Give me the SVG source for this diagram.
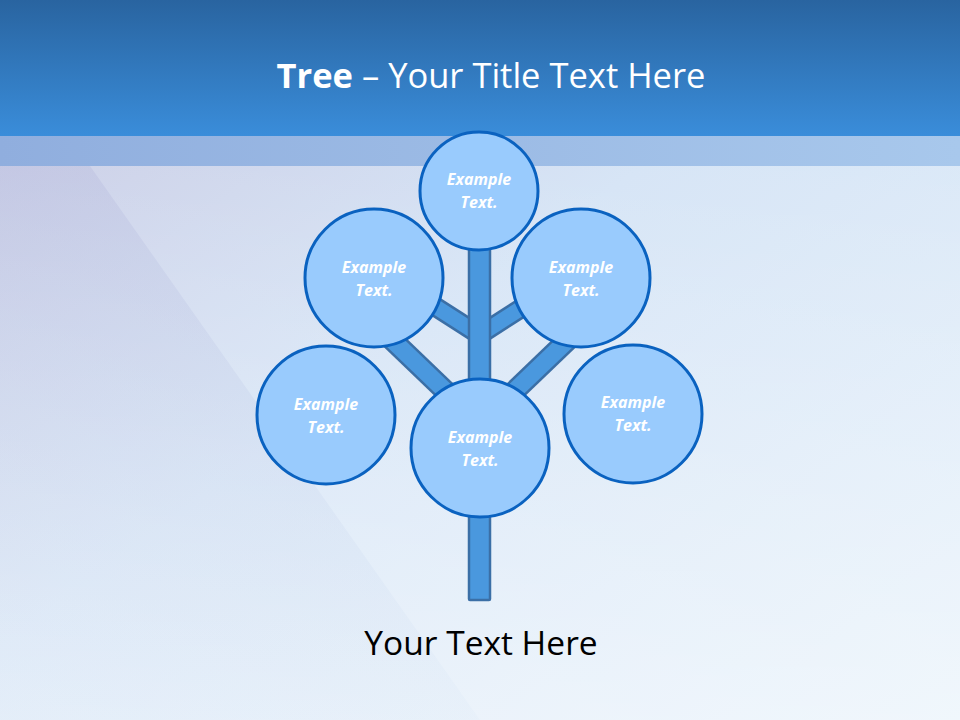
<svg xmlns="http://www.w3.org/2000/svg" width="960" height="720" viewBox="0 0 960 720">
<defs>
<linearGradient id="hdr" x1="0" y1="0" x2="0" y2="1">
<stop offset="0" stop-color="#2964A0"/>
<stop offset="1" stop-color="#3A8DDA"/>
</linearGradient>
<linearGradient id="bg" x1="0" y1="0" x2="1" y2="1">
<stop offset="0" stop-color="#C4C4E0"/>
<stop offset="0.45" stop-color="#D2E2F5"/>
<stop offset="1" stop-color="#E4F0FA"/>
</linearGradient>
<linearGradient id="bg2" x1="0" y1="0" x2="0" y2="1">
<stop offset="0" stop-color="#FFFFFF" stop-opacity="0"/>
<stop offset="1" stop-color="#FFFFFF" stop-opacity="0.45"/>
</linearGradient>
<linearGradient id="band" x1="0" y1="0" x2="1" y2="0">
<stop offset="0" stop-color="#90AEDE"/>
<stop offset="1" stop-color="#A8C8EC"/>
</linearGradient>
<linearGradient id="diag" x1="0" y1="0" x2="0" y2="1">
<stop offset="0" stop-color="#B4B8DC" stop-opacity="0.35"/>
<stop offset="1" stop-color="#C8DCF2" stop-opacity="0.1"/>
</linearGradient>
<style>
.node circle{fill:#99CBFD;stroke:#0A62C0;stroke-width:3}
.node text{font-family:"Open Sans","Liberation Sans",sans-serif;font-size:16px;font-weight:bold;font-style:italic;fill:#FFFFFF;text-anchor:middle}
.br-o{stroke:#3B6FA6;stroke-linecap:butt}
.br-i{stroke:#4A98DE;stroke-linecap:butt}
</style>
</defs>
<rect width="960" height="720" fill="url(#bg)"/>
<rect width="960" height="720" fill="url(#bg2)"/>
<polygon points="0,166 90,166 480,720 0,720" fill="url(#diag)"/>
<rect y="136" width="960" height="30" fill="url(#band)"/>
<rect width="960" height="136" fill="url(#hdr)"/>
<text x="491" y="88" text-anchor="middle" font-family="'Open Sans','Liberation Sans',sans-serif" font-size="34.5" fill="#FFFFFF"><tspan font-weight="bold">Tree</tspan> – Your Title Text Here</text>
<g id="connectors">
<line class="br-o" x1="425" y1="300" x2="478" y2="334" stroke-width="20"/>
<line class="br-i" x1="425" y1="300" x2="478" y2="334" stroke-width="15"/>
<line class="br-o" x1="534" y1="300" x2="481" y2="334" stroke-width="20"/>
<line class="br-i" x1="534" y1="300" x2="481" y2="334" stroke-width="15"/>
<line class="br-o" x1="385" y1="333" x2="460" y2="405" stroke-width="22"/>
<line class="br-i" x1="385" y1="333" x2="460" y2="405" stroke-width="17"/>
<line class="br-o" x1="575" y1="333" x2="500" y2="405" stroke-width="22"/>
<line class="br-i" x1="575" y1="333" x2="500" y2="405" stroke-width="17"/>
<rect x="469" y="240" width="21" height="360" fill="#4A98DE" stroke="#3B6FA6" stroke-width="2.5" rx="1"/>
</g>
<g id="n-top" class="node"><circle cx="479" cy="191" r="59"/><text x="479" y="185">Example</text><text x="479" y="208">Text.</text></g>
<g id="n-ul" class="node"><circle cx="374" cy="278" r="69"/><text x="374" y="273">Example</text><text x="374" y="296">Text.</text></g>
<g id="n-ur" class="node"><circle cx="581" cy="278" r="69"/><text x="581" y="273">Example</text><text x="581" y="296">Text.</text></g>
<g id="n-ll" class="node"><circle cx="326" cy="415" r="69"/><text x="326" y="410">Example</text><text x="326" y="433">Text.</text></g>
<g id="n-lr" class="node"><circle cx="633" cy="414" r="69"/><text x="633" y="408">Example</text><text x="633" y="431">Text.</text></g>
<g id="n-c" class="node"><circle cx="480" cy="448" r="69"/><text x="480" y="443">Example</text><text x="480" y="466">Text.</text></g>
<text x="481" y="655" text-anchor="middle" font-family="'Open Sans','Liberation Sans',sans-serif" font-size="33.5" fill="#000000">Your Text Here</text>
</svg>
